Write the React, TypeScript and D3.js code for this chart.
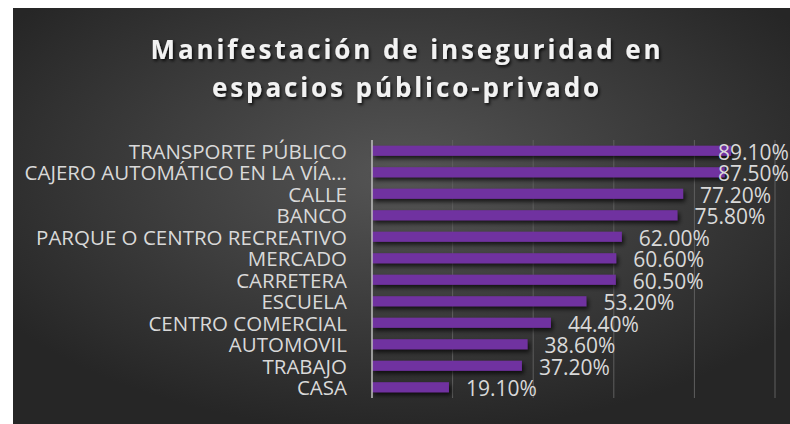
import React from "react";
import * as d3 from "d3";

const categories = [
  "TRANSPORTE PÚBLICO",
  "CAJERO AUTOMÁTICO EN LA VÍA…",
  "CALLE",
  "BANCO",
  "PARQUE O CENTRO RECREATIVO",
  "MERCADO",
  "CARRETERA",
  "ESCUELA",
  "CENTRO COMERCIAL",
  "AUTOMOVIL",
  "TRABAJO",
  "CASA",
];
const values = [0.891, 0.875, 0.772, 0.758, 0.62, 0.606, 0.605, 0.532, 0.444, 0.386, 0.372, 0.191];
const valueLabels = ["89.10%", "87.50%", "77.20%", "75.80%", "62.00%", "60.60%", "60.50%", "53.20%", "44.40%", "38.60%", "37.20%", "19.10%"];
const xTicks = [0, 0.2, 0.4, 0.6, 0.8, 1.0];
const titleLines = ["Manifestación de inseguridad en", "espacios público-privado"];

const W = 790;
const H = 424;
const plotLeft = 372;
const plotRight = 775;
const plotTop = 140;
const plotBottom = 398;
const labelFont = "'Open Sans', 'Liberation Sans', sans-serif";

export default function App() {
  const x = d3.scaleLinear().domain([0, 1]).range([plotLeft, plotRight]);
  const y = d3.scaleBand<string>().domain(categories).range([plotTop, plotBottom]).paddingInner(0.53).paddingOuter(0.265);
  const bh = y.bandwidth();
  const labelW = 72;

  return (
    <svg width={W} height={H} style={{ position: "absolute", left: 0, top: 0 }}>
      <defs>
        <radialGradient id="bg" cx="50%" cy="40%" r="62%">
          <stop offset="0%" stopColor="#555555" />
          <stop offset="100%" stopColor="#262626" />
        </radialGradient>
        <filter id="tshadow" x="-10%" y="-30%" width="120%" height="160%">
          <feDropShadow dx="1.5" dy="2" stdDeviation="1.5" floodColor="#000" floodOpacity="0.8" />
        </filter>
        <filter id="bshadow" x="-5%" y="-50%" width="110%" height="250%">
          <feDropShadow dx="2" dy="3" stdDeviation="2" floodColor="#000" floodOpacity="0.7" />
        </filter>
      </defs>
      <rect x={13} y={8} width={W - 13} height={H - 8} fill="url(#bg)" />
      <g
        fontFamily="'Open Sans', sans-serif"
        fontWeight="bold"
        fontSize={26}
        fill="#f2f2f2"
        textAnchor="middle"
        letterSpacing={2.9}
        filter="url(#tshadow)"
      >
        <text x={407} y={59}>{titleLines[0]}</text>
        <text x={407} y={97}>{titleLines[1]}</text>
      </g>
      {xTicks.slice(1).map((t) => (
        <line key={t} x1={x(t)} x2={x(t)} y1={plotTop} y2={plotBottom} stroke="#5e5e5e" strokeWidth={1} />
      ))}
      <g filter="url(#bshadow)">
        {categories.map((c, i) => (
          <rect key={c} x={x(0)} y={y(c)} width={x(values[i]) - x(0)} height={bh} fill="#7030a0" />
        ))}
      </g>
      <line x1={plotLeft} x2={plotLeft} y1={plotTop} y2={plotBottom} stroke="#bfbfbf" strokeWidth={1.5} />
      <g fontFamily={labelFont} fill="#d9d9d9">
        {categories.map((c) => (
          <text key={c} x={347} y={(y(c) as number) + bh / 2} fontSize={20.5} textAnchor="end" dominantBaseline="central">
            {c}
          </text>
        ))}
        {categories.map((c, i) => (
          <text
            key={c + "v"}
            x={Math.min(x(values[i]) + 17, W - labelW)}
            y={(y(c) as number) + bh / 2 + 1}
            fontSize={21}
            dominantBaseline="central"
          >
            {valueLabels[i]}
          </text>
        ))}
      </g>
    </svg>
  );
}
